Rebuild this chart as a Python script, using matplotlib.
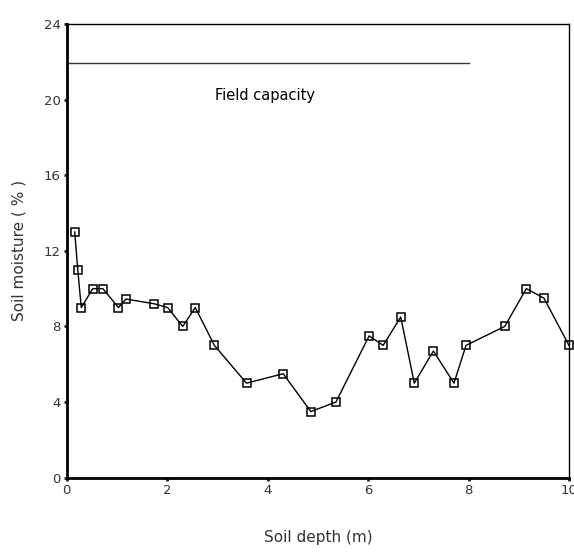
import numpy as np
import matplotlib
matplotlib.use("Agg")
from matplotlib import pyplot as plt
from matplotlib import font_manager

# profundidade (m) e umidade do solo (%)
profundidade = [0.16, 0.22, 0.29, 0.52, 0.72, 1.03, 1.18, 1.74, 2.01, 2.31, 2.56,
                2.94, 3.58, 4.31, 4.86, 5.36, 6.02, 6.30, 6.65, 6.92, 7.30, 7.71,
                7.95, 8.72, 9.15, 9.50, 10.0]
umidade = [13.0, 11.0, 9.0, 10.0, 10.0, 9.0, 9.45, 9.2, 9.0, 8.0, 9.0,
           7.0, 5.0, 5.5, 3.5, 4.0, 7.5, 7.0, 8.5, 5.0, 6.7, 5.0,
           7.0, 8.0, 10.0, 9.5, 7.0]

capacidade_campo = 21.95
capacidade_x = [0, 8]
rotulo_capacidade = "Field capacity"

xticks = [0, 2, 4, 6, 8, 10]
yticks = [0, 4, 8, 12, 16, 20, 24]

cor_texto = "#333333"

# fonte estreita para os numeros dos eixos, se existir
nomes = {f.name for f in font_manager.fontManager.ttflist}
if "Liberation Sans Narrow" in nomes:
    fonte_ticks = "Liberation Sans Narrow"
    tam_ticks = 10.5
else:
    fonte_ticks = "DejaVu Sans"
    tam_ticks = 9.5

fig = plt.figure(figsize=(5.74, 5.55), dpi=100)
ax = fig.add_axes([0.1162, 0.1393, 0.8751, 0.8175])

ax.plot(profundidade, umidade, color="black", linewidth=1.0, marker="s",
        markersize=6, markerfacecolor="none", markeredgecolor="black",
        markeredgewidth=1.1, clip_on=False, zorder=3)

ax.plot(capacidade_x, [capacidade_campo, capacidade_campo], color="#333333",
        linewidth=1.0)
ax.text(3.95, 20.2, rotulo_capacidade, ha="center", va="center",
        fontsize=10.5, color="black")

ax.set_xlim(0, 10)
ax.set_ylim(0, 24)
ax.set_xticks(xticks)
ax.set_yticks(yticks)

for lado in ["left", "bottom"]:
    ax.spines[lado].set_linewidth(2.0)
for lado in ["top", "right"]:
    ax.spines[lado].set_linewidth(1.0)

ax.tick_params(axis="both", direction="out", length=2.5, width=2.0,
               color="#222222", labelcolor=cor_texto, labelsize=tam_ticks, pad=2)
for rotulo in ax.get_xticklabels() + ax.get_yticklabels():
    rotulo.set_family(fonte_ticks)

ax.set_xlabel("Soil depth (m)", fontsize=11, color=cor_texto, labelpad=24)
ax.set_ylabel("Soil moisture ( % )", fontsize=11, color=cor_texto, labelpad=12)

fig.savefig("out.png", dpi=100)
